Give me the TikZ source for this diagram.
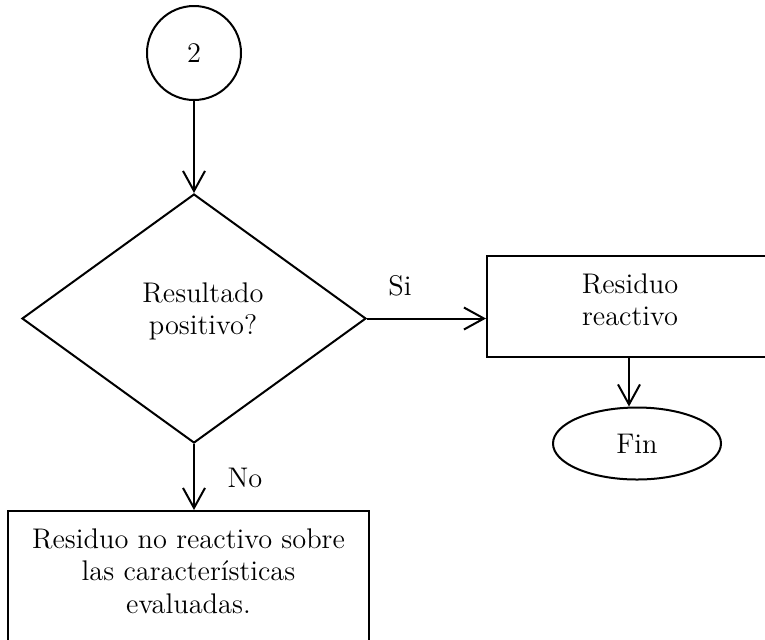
\documentclass[tikz,border=0pt]{standalone}
\usetikzlibrary{shapes.geometric,arrows.meta}
\begin{document}
\begin{tikzpicture}[x=0.5pt,y=-0.5pt,
  every node/.style={font=\fontsize{14.2}{16.3}\selectfont, inner sep=0pt},
  shp/.style={draw, line width=1pt},
  conn/.style={line width=1pt, -{Straight Barb[length=10pt,width=11pt]}},
  txt/.style={align=center}]
\useasboundingbox (0,0) rectangle (765,639);
\clip (0,0) rectangle (765,639);
\node[shp,circle,minimum size=47pt] (c2) at (194,53) {2};
\node[shp,diamond,minimum width=172pt,minimum height=124.5pt] (dia) at (194,318.5) {};
\node[txt,anchor=north] (diatxt) at (203,282) {Resultado\\positivo?};
\node[shp,rectangle,minimum width=143pt,minimum height=50.5pt,align=center,text depth=7pt] (rr) at (630,306.5) {Residuo\\reactivo};
\node[shp,ellipse,minimum width=84pt,minimum height=36pt] (fin) at (637,443.5) {Fin};
\node[shp,rectangle,minimum width=180.5pt,minimum height=85pt,anchor=north] (no) at (188.5,510) {};
\node[txt,anchor=north] (notxt) at (188.5,528) {Residuo no reactivo sobre\\las características\\evaluadas.};
\node[anchor=base] (si) at (400,295) {Si};
\node[anchor=base] (nolbl) at (245,487) {No};
\draw[conn] (c2.south) -- (dia.north);
\draw[conn] (dia.east) -- (dia.east -| rr.west);
\draw[conn] (rr.south -| 629,0) -- (fin.north -| 629,0);
\draw[conn] (dia.south) -- (dia.south |- no.north);
\end{tikzpicture}
\end{document}
